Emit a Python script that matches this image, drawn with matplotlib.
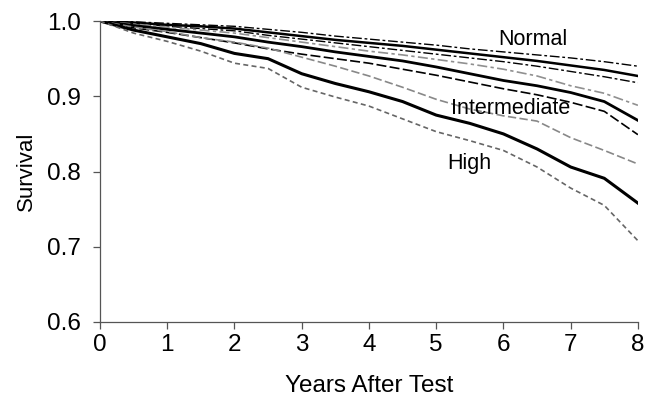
import matplotlib
matplotlib.use("Agg")
import matplotlib.pyplot as plt

plt.rcParams['font.family'] = ['Liberation Sans', 'DejaVu Sans']

years = [0, 0.5, 1, 1.5, 2, 2.5, 3, 3.5, 4, 4.5, 5, 5.5, 6, 6.5, 7, 7.5, 8]

normal_upper = [1.000, .999, .997, .995, .993, .989, .985, .980, .976, .972, .968, .963, .959, .955, .951, .946, .940]
normal = [1.000, .998, .995, .993, .990, .985, .980, .975, .971, .967, .962, .957, .952, .947, .941, .935, .927]
normal_lower = [1.000, .997, .993, .990, .987, .981, .976, .971, .966, .961, .956, .951, .946, .940, .933, .926, .918]

inter_upper = [1.000, .996, .992, .988, .984, .978, .972, .966, .960, .955, .949, .943, .936, .927, .914, .904, .888]
inter = [1.000, .994, .989, .984, .979, .972, .966, .959, .953, .947, .939, .930, .921, .914, .905, .893, .868]
inter_lower = [1.000, .991, .985, .978, .971, .963, .956, .950, .944, .936, .928, .919, .910, .902, .892, .880, .849]

high_upper = [1.000, .992, .986, .978, .972, .964, .952, .940, .927, .912, .896, .883, .874, .867, .845, .828, .810]
high = [1.000, .988, .979, .970, .957, .950, .930, .917, .906, .893, .875, .864, .850, .830, .806, .791, .758]
high_lower = [1.000, .984, .973, .960, .944, .937, .912, .899, .887, .870, .853, .841, .828, .806, .778, .755, .708]

labels = ["Normal", "Intermediate", "High"]
label_pos = [(6.44, 0.975), (6.11, 0.884), (5.5, 0.811)]

fig = plt.figure(figsize=(6.45, 4.05), dpi=100)
ax = fig.add_axes([0.155, 0.205, 0.834, 0.743])

ax.plot(years, normal_upper, color='black', lw=1.0, dashes=(7, 2, 2, 2))
ax.plot(years, normal, color='black', lw=1.8)
ax.plot(years, normal_lower, color='black', lw=1.0, dashes=(7, 2, 2, 2))

ax.plot(years, inter_upper, color='#909090', lw=1.2, dashes=(6, 2, 2, 2))
ax.plot(years, inter, color='black', lw=2.0)
ax.plot(years, inter_lower, color='black', lw=1.2, dashes=(6, 2))

ax.plot(years, high_upper, color='#888888', lw=1.2, dashes=(5, 2))
ax.plot(years, high, color='black', lw=2.2)
ax.plot(years, high_lower, color='#666666', lw=1.2, dashes=(3, 2))

for lab, (x, y) in zip(labels, label_pos):
    ax.text(x, y, lab, ha='center', va='center', fontsize=15.5)

ax.set_xlim(0, 8)
ax.set_ylim(0.6, 1.0)
ax.set_xticks(range(0, 9))
ax.set_yticks([0.6, 0.7, 0.8, 0.9, 1.0])
ax.set_yticklabels(['0.6', '0.7', '0.8', '0.9', '1.0'])
ax.spines['top'].set_visible(False)
ax.spines['right'].set_visible(False)
for s in ['left', 'bottom']:
    ax.spines[s].set_color('#555555')
    ax.spines[s].set_linewidth(0.9)
ax.tick_params(axis='both', direction='out', length=5, width=0.9, color='#555555', labelsize=17.5)
ax.tick_params(axis='y', pad=9)
ax.tick_params(axis='x', pad=4)
ax.set_xlabel('Years After Test', fontsize=17.5, labelpad=13)
ax.set_ylabel('Survival', fontsize=16, labelpad=7)

fig.savefig('out.png', dpi=100)
